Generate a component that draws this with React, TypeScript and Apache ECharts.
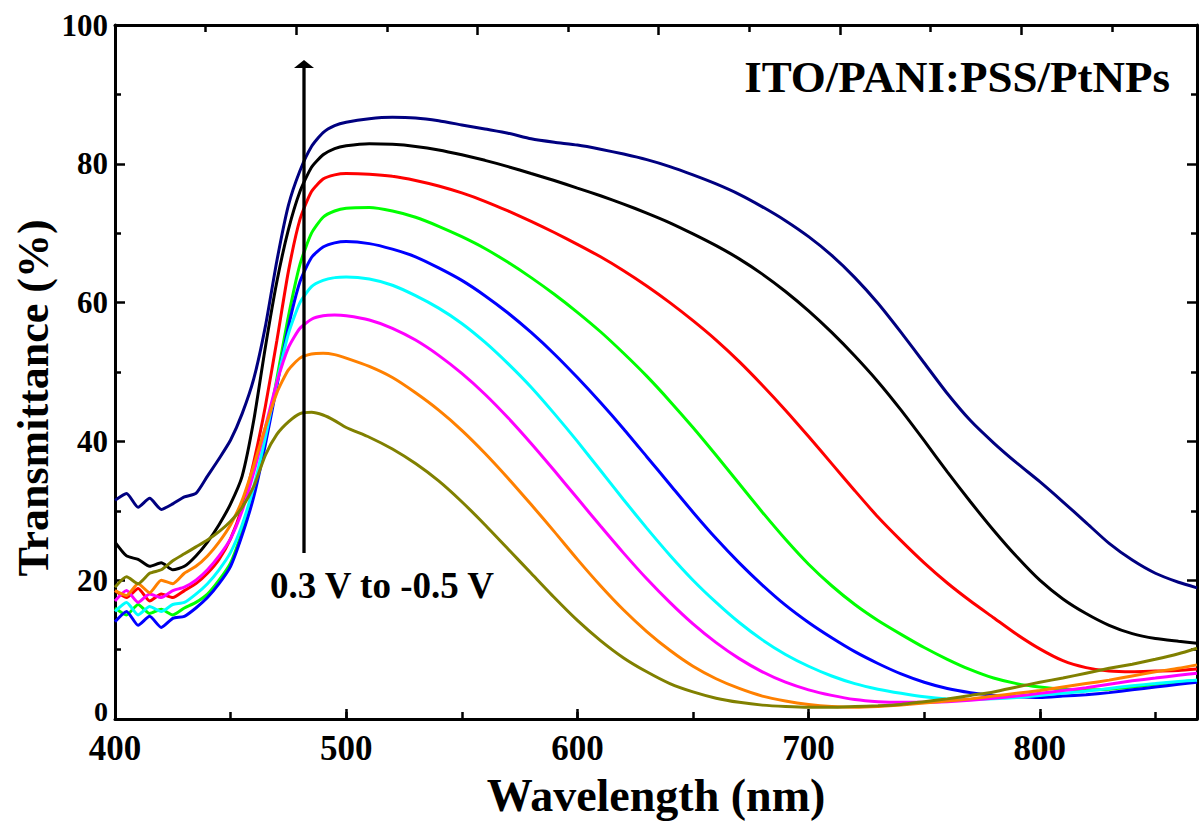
import React, { useEffect, useRef } from "react";
import * as echarts from "echarts";

const WAVELENGTHS = [
  400, 405, 410, 415, 420, 425, 430, 435, 440, 445, 450, 455, 460, 465, 470, 475, 480, 485, 490, 495, 500,
  510, 520, 530, 540, 550, 560, 570, 580, 590, 600, 610, 620, 630, 640, 650, 660, 670, 680, 690, 700,
  710, 720, 730, 740, 750, 760, 770, 780, 790, 800, 810, 820, 830, 840, 850, 860, 868,
];

// -0.5 V (top) ... 0.3 V (bottom)
const T_NAVY = [
  31.5, 32.5, 30.5, 31.8, 30.2, 31.0, 32.0, 32.5, 35.0, 37.5, 40.2, 44.0, 49.0, 56.5, 66.0, 74.0, 79.0, 82.5, 84.5, 85.5, 86.0,
  86.5, 86.7, 86.6, 86.2, 85.6, 85.0, 84.4, 83.6, 83.1, 82.7, 82.1, 81.4, 80.6, 79.6, 78.4, 77.1, 75.6, 73.8, 71.8, 69.5,
  66.8, 63.6, 59.9, 55.7, 51.3, 46.9, 43.0, 39.8, 36.9, 34.2, 31.3, 28.3, 25.3, 22.9, 21.0, 19.7, 18.9,
];
const T_BLACK = [
  25.5, 23.5, 23.0, 22.0, 22.5, 21.5, 22.0, 23.5, 25.5, 28.0, 31.0, 35.0, 43.0, 53.5, 63.0, 70.5, 76.0, 79.5, 81.3, 82.2, 82.6,
  82.9, 82.8, 82.5, 82.0, 81.3, 80.5, 79.6, 78.6, 77.6, 76.5, 75.4, 74.2, 72.9, 71.5, 69.9, 68.2, 66.3, 64.1, 61.6, 58.8,
  55.7, 52.3, 48.6, 44.5, 40.1, 35.6, 31.3, 27.2, 23.4, 20.0, 17.3, 15.2, 13.5, 12.3, 11.6, 11.2, 10.9,
];
const T_RED = [
  18.5, 17.5, 18.8, 17.0, 18.0, 17.5, 18.5, 19.5, 21.0, 23.0, 26.0, 30.5, 37.0, 45.0, 54.5, 64.5, 72.0, 76.0, 77.8, 78.4, 78.6,
  78.5, 78.2, 77.6, 76.8, 75.8, 74.6, 73.2, 71.7, 70.1, 68.4, 66.6, 64.6, 62.4, 60.0, 57.4, 54.6, 51.5, 48.1, 44.5, 40.7,
  36.8, 32.9, 29.1, 25.7, 22.5, 19.6, 17.0, 14.6, 12.2, 10.1, 8.4, 7.4, 6.9, 6.8, 6.9, 7.0, 7.2,
];
const T_GREEN = [
  16.0, 15.0, 16.5, 15.2, 15.8, 15.0, 16.0, 16.8, 18.0, 20.0, 22.5, 27.0, 32.5, 40.0, 49.0, 58.0, 65.5, 70.0, 72.3, 73.2, 73.6,
  73.7, 73.2, 72.3, 71.0, 69.5, 67.8, 65.8, 63.6, 61.2, 58.6, 55.8, 52.7, 49.4, 45.8, 42.0, 38.0, 33.9, 29.8, 25.9, 22.3,
  19.2, 16.5, 14.2, 12.2, 10.3, 8.6, 7.1, 5.9, 5.1, 4.6, 4.3, 4.2, 4.3, 4.6, 5.0, 5.3, 5.6,
];
const T_BLUE = [
  14.0, 15.5, 13.5, 14.8, 13.2, 14.5, 14.8, 16.0, 17.5, 19.5, 22.0, 26.5, 32.0, 39.5, 48.0, 56.5, 63.0, 66.5, 68.0, 68.6, 68.8,
  68.5, 67.7, 66.6, 65.0, 63.2, 61.0, 58.5, 55.7, 52.6, 49.2, 45.6, 41.8, 37.8, 33.8, 29.8, 26.0, 22.5, 19.3, 16.4, 13.9,
  11.7, 9.7, 8.0, 6.5, 5.3, 4.4, 3.8, 3.4, 3.2, 3.1, 3.3, 3.5, 3.8, 4.2, 4.6, 5.0, 5.3,
];
const T_CYAN = [
  15.5, 16.8, 15.0, 16.2, 15.5, 16.5, 16.8, 18.0, 19.5, 21.5, 24.0, 28.0, 33.5, 40.5, 48.5, 55.5, 60.0, 62.3, 63.2, 63.6, 63.7,
  63.4, 62.5, 61.0, 59.2, 57.0, 54.3, 51.2, 47.8, 44.0, 40.0, 35.8, 31.6, 27.5, 23.6, 20.0, 16.8, 13.9, 11.4, 9.3, 7.6,
  6.2, 5.1, 4.3, 3.7, 3.2, 2.9, 2.8, 2.9, 3.1, 3.4, 3.7, 4.0, 4.4, 4.8, 5.1, 5.4, 5.6,
];
const T_MAGENTA = [
  17.0, 18.5, 16.8, 18.0, 17.5, 18.5, 19.0, 20.0, 21.5, 23.5, 26.0, 30.0, 35.5, 42.0, 48.5, 53.5, 56.3, 57.6, 58.1, 58.2, 58.1,
  57.5, 56.3, 54.6, 52.4, 49.8, 46.8, 43.4, 39.7, 35.8, 31.8, 27.8, 23.9, 20.2, 16.8, 13.7, 11.0, 8.7, 6.8, 5.3, 4.2,
  3.4, 2.8, 2.5, 2.4, 2.4, 2.5, 2.7, 3.0, 3.3, 3.7, 4.1, 4.5, 5.0, 5.5, 5.9, 6.3, 6.6,
];
const T_ORANGE = [
  18.5, 17.8, 19.5, 18.2, 20.0, 19.5, 21.0, 22.0, 23.5, 25.5, 28.0, 31.5, 36.5, 42.0, 47.0, 50.3, 52.0, 52.6, 52.7, 52.5, 52.0,
  50.8, 49.2, 47.0, 44.5, 41.6, 38.3, 34.7, 30.9, 27.0, 23.0, 19.2, 15.7, 12.6, 9.9, 7.6, 5.8, 4.4, 3.3, 2.6, 2.1,
  1.8, 1.7, 1.8, 2.0, 2.3, 2.6, 2.9, 3.3, 3.7, 4.1, 4.6, 5.1, 5.6, 6.2, 6.8, 7.3, 7.8,
];
const T_OLIVE = [
  19.0, 20.5, 19.5, 21.0, 21.5, 22.8, 23.8, 24.8, 25.8, 27.0, 28.5, 30.5, 33.5, 38.0, 41.0, 42.8, 44.0, 44.2, 43.8, 43.0, 42.0,
  40.6, 38.9, 36.8, 34.3, 31.3, 28.0, 24.5, 21.0, 17.5, 14.2, 11.3, 8.8, 6.8, 5.1, 3.9, 3.0, 2.4, 2.0, 1.8, 1.7,
  1.7, 1.8, 1.9, 2.1, 2.5, 2.9, 3.4, 3.9, 4.6, 5.3, 5.9, 6.6, 7.3, 7.9, 8.6, 9.4, 10.2,
];

const SERIES_NAMES = ["-0.5 V", "-0.4 V", "-0.3 V", "-0.2 V", "-0.1 V", "0 V", "0.1 V", "0.2 V", "0.3 V"];
const SERIES_VALUES = [T_NAVY, T_BLACK, T_RED, T_GREEN, T_BLUE, T_CYAN, T_MAGENTA, T_ORANGE, T_OLIVE];
const SERIES_COLORS = ["#000080", "#000000", "#ff0000", "#00ff00", "#0000ff", "#00ffff", "#ff00ff", "#ff8000", "#808000"];

const X_TICKS_MAJOR = 100;
const Y_TICK = 20;
const Y_ZERO_LABEL = "0";
const SAMPLE_LABEL = "ITO/PANI:PSS/PtNPs";
const ARROW_LABEL = "0.3 V to -0.5 V";
const X_TITLE = "Wavelength (nm)";
const Y_TITLE = "Transmittance (%)";

const FONT = "'Liberation Serif', 'Times New Roman', serif";

export default function App() {
  const ref = useRef<HTMLDivElement>(null);
  useEffect(() => {
    if (!ref.current) return;
    const chart = echarts.init(ref.current, undefined, { renderer: "svg" });
    const line = { color: "#000", width: 3 };
    const tick = { color: "#000", width: 2.5 };
    const option: any = {
      animation: false,
      backgroundColor: "#fff",
      grid: { left: 115, right: 2, top: 25, bottom: 102, containLabel: false },
      xAxis: [
        {
          type: "value", position: "bottom", min: 400, max: 868, interval: X_TICKS_MAJOR,
          axisLine: { show: true, onZero: false, lineStyle: line },
          axisTick: { show: true, inside: true, length: 10, lineStyle: tick },
          splitLine: { show: false },
          axisLabel: {
            show: true, margin: 15, fontSize: 35, lineHeight: 28, fontWeight: "bold", fontFamily: FONT, color: "#000",
            showMaxLabel: false,
            formatter: (v: number) => (v % 100 === 0 ? String(v) : ""),
          },
        },
        {
          type: "value", position: "bottom", min: 400, max: 868, interval: 50,
          axisLine: { show: false },
          axisTick: { show: true, inside: true, length: 7, lineStyle: tick },
          splitLine: { show: false }, axisLabel: { show: false },
        },
        {
          type: "value", position: "top", min: 0, max: 5.97, interval: 1,
          axisLine: { show: true, onZero: false, lineStyle: line },
          axisTick: { show: true, inside: true, length: 10, lineStyle: tick },
          minorTick: { show: true, splitNumber: 2, length: 7, lineStyle: tick },
          splitLine: { show: false }, axisLabel: { show: false },
        },
      ],
      yAxis: [
        {
          type: "value", position: "left", min: 0, max: 100, interval: Y_TICK,
          axisLine: { show: true, onZero: false, lineStyle: line },
          axisTick: { show: true, inside: true, length: 10, lineStyle: tick },
          minorTick: { show: true, splitNumber: 2, length: 6, lineStyle: tick },
          splitLine: { show: false },
          axisLabel: {
            show: true, margin: 7, fontSize: 31, fontWeight: "bold", fontFamily: FONT, color: "#000",
            showMinLabel: false,
          },
        },
        {
          type: "value", position: "right", min: 0, max: 100, interval: Y_TICK,
          axisLine: { show: true, onZero: false, lineStyle: line },
          axisTick: { show: true, inside: true, length: 10, lineStyle: tick },
          minorTick: { show: true, splitNumber: 2, length: 6, lineStyle: tick },
          splitLine: { show: false }, axisLabel: { show: false },
        },
      ],
      series: SERIES_VALUES.map((vals, i) => ({
        type: "line",
        name: SERIES_NAMES[i],
        xAxisIndex: 0,
        yAxisIndex: 0,
        data: WAVELENGTHS.map((w, j) => [w, vals[j]]),
        showSymbol: false,
        symbol: "none",
        smooth: 0.2,
        lineStyle: { color: SERIES_COLORS[i], width: 3 },
        z: 2 + i,
      })),
      graphic: [
        {
          type: "text", x: 108, y: 711, z: 100,
          style: { text: Y_ZERO_LABEL, fontSize: 28, fontWeight: "bold", fontFamily: FONT, fill: "#000", align: "right", verticalAlign: "middle" },
        },
        {
          type: "text", x: 1170, y: 77, z: 100,
          style: { text: SAMPLE_LABEL, fontSize: 45, fontWeight: "bold", fontFamily: FONT, fill: "#000", align: "right", verticalAlign: "middle" },
        },
        {
          type: "text", x: 382, y: 585, z: 100,
          style: { text: ARROW_LABEL, fontSize: 37, fontWeight: "bold", fontFamily: FONT, fill: "#000", align: "center", verticalAlign: "middle" },
        },
        {
          type: "line", z: 100,
          shape: { x1: 304, y1: 553, x2: 304, y2: 66 },
          style: { stroke: "#000", lineWidth: 3.3 },
        },
        {
          type: "polygon", z: 100,
          shape: { points: [[294, 68], [314, 68], [304, 60]] },
          style: { fill: "#000" },
        },
        {
          type: "text", x: 33, y: 398, rotation: Math.PI / 2, z: 100,
          style: { text: Y_TITLE, fontSize: 44, fontWeight: "bold", fontFamily: FONT, fill: "#000", align: "center", verticalAlign: "middle" },
        },
        {
          type: "text", x: 656, y: 795, z: 100,
          style: { text: X_TITLE, fontSize: 46, fontWeight: "bold", fontFamily: FONT, fill: "#000", align: "center", verticalAlign: "middle" },
        },
      ],
    };
    chart.setOption(option);
    return () => chart.dispose();
  }, []);
  return (
    <div
      ref={ref}
      style={{ position: "fixed", left: 0, top: 0, width: 1199, height: 821, background: "#fff" }}
    />
  );
}
